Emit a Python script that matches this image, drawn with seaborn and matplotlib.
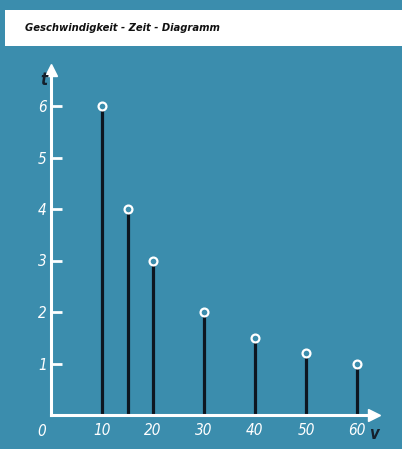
import numpy as np
import matplotlib
matplotlib.use('Agg')
import matplotlib.pyplot as plt
import pandas as pd
import seaborn as sns
from matplotlib.patches import Rectangle

# Geschwindigkeit v und Zeit t (t = 60 / v)
v_values = [10, 15, 20, 30, 40, 50, 60]
t_values = [6, 4, 3, 2, 1.5, 1.2, 1]
x_ticks = [10, 20, 30, 40, 50, 60]
y_ticks = [1, 2, 3, 4, 5, 6]
title = 'Geschwindigkeit - Zeit - Diagramm'

bg = '#3b8dad'
font = ['DejaVu Sans']

sns.set_style('white')
plt.rcParams['font.family'] = font
plt.rcParams['font.stretch'] = 'condensed'

df = pd.DataFrame({'v': v_values, 't': t_values})

W, H = 406, 449
fig = plt.figure(figsize=(W / 100, H / 100), dpi=100, facecolor=bg)

# white title box and right edge strip
fig.patches.append(Rectangle((5 / W, 1 - 46 / H), (W - 5) / W, 36 / H,
                             transform=fig.transFigure, facecolor='white',
                             edgecolor='none', zorder=0))
fig.patches.append(Rectangle((402 / W, 0), 4 / W, 1, transform=fig.transFigure,
                             facecolor='white', edgecolor='none', zorder=0))
fig.text(25 / W, 1 - 28 / H, title, fontsize=8, style='italic',
         weight='bold', color='#111111', va='center', ha='left',
         family=font, fontstretch='condensed')

x0, y0 = 51, 415
x1, y1 = 374, 70
ax = fig.add_axes([x0 / W, (H - y0) / H, (x1 - x0) / W, (y0 - y1) / H])
ax.set_facecolor('none')
ax.set_xlim(0, (x1 - x0) / 5.1)
ax.set_ylim(0, (y0 - y1) / 51.5)

ax.vlines(df['v'], 0, df['t'] - 0.08, color='#0d1620', linewidth=2.3, zorder=2)
sns.scatterplot(data=df, x='v', y='t', ax=ax, s=32, color=bg,
                edgecolor='white', linewidth=1.6, zorder=3, clip_on=False)

for side in ['top', 'right']:
    ax.spines[side].set_visible(False)
for side in ['left', 'bottom']:
    ax.spines[side].set_color('white')
    ax.spines[side].set_linewidth(2.2)

# arrow heads
ax.plot(1, 0, '>', color='white', markersize=9, transform=ax.transAxes,
        clip_on=False)
ax.plot(0, 1, '^', color='white', markersize=9, transform=ax.transAxes,
        clip_on=False)

ax.set_xticks(x_ticks)
ax.set_xticklabels([str(x) for x in x_ticks])
ax.set_yticks(y_ticks)
ax.set_yticklabels([str(y) for y in y_ticks])
ax.tick_params(axis='x', length=0, pad=6, labelsize=11, labelcolor='white')
ax.tick_params(axis='y', direction='in', length=8, width=2, color='white',
               pad=3, labelsize=11, labelcolor='white', left=True)
for lab in ax.get_xticklabels() + ax.get_yticklabels():
    lab.set_style('italic')
    lab.set_fontstretch('condensed')
ax.set_xlabel('')
ax.set_ylabel('')

fig.text(42 / W, 1 - 431 / H, '0', fontsize=11, style='italic', color='white',
         ha='center', va='center', family=font, fontstretch='condensed')
fig.text(44 / W, 1 - 80 / H, 't', fontsize=12, style='italic', weight='bold',
         color='#14202c', ha='center', va='center', family=font)
fig.text(374 / W, 1 - 434 / H, 'v', fontsize=12, style='italic', weight='bold',
         color='#14202c', ha='center', va='center', family=font)

fig.savefig('out.png', dpi=100, facecolor=bg)
